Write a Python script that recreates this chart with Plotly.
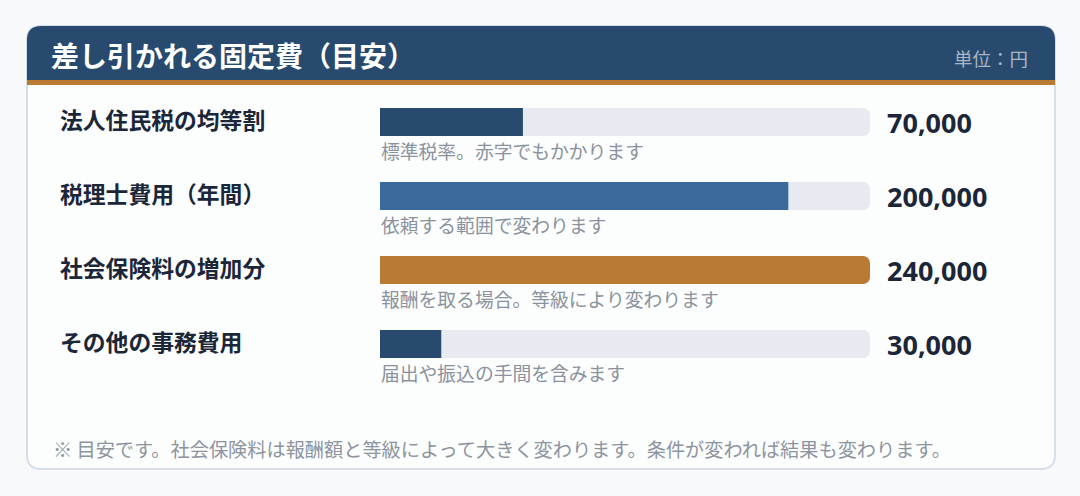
import plotly.graph_objects as go

# データ
title_text = "差し引かれる固定費（目安）"
unit_text = "単位：円"
items = ["法人住民税の均等割", "税理士費用（年間）", "社会保険料の増加分", "その他の事務費用"]
amounts = [70000, 200000, 240000, 30000]
notes = ["標準税率。赤字でもかかります", "依頼する範囲で変わります",
         "報酬を取る場合。等級により変わります", "届出や振込の手間を含みます"]
bar_colors = ["#284a6e", "#3b6a9c", "#b97b34", "#284a6e"]
footnote = "※ 目安です。社会保険料は報酬額と等級によって大きく変わります。条件が変われば結果も変わります。"

W, H = 1080, 496
JP = "Noto Sans CJK JP"


def px(x):
    return x / W


def py(y):
    return 1 - y / H


def rounded_path(x0, y0, x1, y1, r, top_only=False):
    """SVG path (paper coords) for a rounded rectangle given in pixels."""
    rb = 0 if top_only else r
    pts = [
        f"M {px(x0 + r)},{py(y0)}",
        f"L {px(x1 - r)},{py(y0)}",
        f"Q {px(x1)},{py(y0)} {px(x1)},{py(y0 + r)}",
        f"L {px(x1)},{py(y1 - rb)}",
        f"Q {px(x1)},{py(y1)} {px(x1 - rb)},{py(y1)}",
        f"L {px(x0 + rb)},{py(y1)}",
        f"Q {px(x0)},{py(y1)} {px(x0)},{py(y1 - rb)}",
        f"L {px(x0)},{py(y0 + r)}",
        f"Q {px(x0)},{py(y0)} {px(x0 + r)},{py(y0)}",
        "Z",
    ]
    return " ".join(pts)


idx = list(range(len(items)))
track_max = max(amounts)

fig = go.Figure()
fig.add_trace(go.Bar(
    y=idx, x=[track_max] * len(items), orientation="h", width=0.38,
    marker=dict(color="#e7eaf0", cornerradius=7, line=dict(width=0)),
    hoverinfo="skip", showlegend=False,
))
fig.add_trace(go.Bar(
    y=idx, x=amounts, orientation="h", width=0.38,
    marker=dict(color=bar_colors, cornerradius=7, line=dict(width=0)),
    showlegend=False,
))

shapes = [
    # card
    dict(type="path", xref="paper", yref="paper",
         path=rounded_path(27, 26, 1055, 469, 14),
         fillcolor="#fcfdfd", line=dict(color="#d6deea", width=2), layer="below"),
    # header band
    dict(type="path", xref="paper", yref="paper",
         path=rounded_path(27, 26, 1055, 80, 14, top_only=True),
         fillcolor="#284a6e", line=dict(width=0), layer="below"),
    # orange rule
    dict(type="rect", xref="paper", yref="paper",
         x0=px(27), x1=px(1055), y0=py(85), y1=py(80),
         fillcolor="#b97b34", line=dict(width=0), layer="below"),
]

annotations = [
    dict(text=f"<b>{title_text}</b>", x=px(49), y=py(55), xref="paper", yref="paper",
         xanchor="left", yanchor="middle", showarrow=False,
         font=dict(family=JP, size=28, color="#ffffff")),
    dict(text=unit_text, x=px(1030), y=py(58), xref="paper", yref="paper",
         xanchor="right", yanchor="middle", showarrow=False,
         font=dict(family=JP, size=18.5, color="#aab6c6")),
    dict(text=footnote, x=px(51), y=py(449), xref="paper", yref="paper",
         xanchor="left", yanchor="middle", showarrow=False,
         font=dict(family=JP, size=19.2, color="#8c94a0")),
]
for i, (name, val, note) in enumerate(zip(items, amounts, notes)):
    annotations += [
        dict(text=f"<b>{name}</b>", x=px(58), y=i - 0.03, xref="paper", yref="y",
             xanchor="left", yanchor="middle", showarrow=False,
             font=dict(family=JP, size=22.8, color="#1b2639")),
        dict(text=note, x=px(379), y=i + 0.39, xref="paper", yref="y",
             xanchor="left", yanchor="middle", showarrow=False,
             font=dict(family=JP, size=18.8, color="#8a929d")),
        dict(text=f"<b>{val:,}</b>", x=px(885), y=i + 0.01, xref="paper", yref="y",
             xanchor="left", yanchor="middle", showarrow=False,
             font=dict(family="Noto Sans", size=27, color="#1b2639")),
    ]

unit = 74.0
lo = -122 / unit
hi = lo + H / unit

fig.update_layout(
    width=W, height=H,
    margin=dict(l=0, r=0, t=0, b=0),
    paper_bgcolor="#f8f9fb", plot_bgcolor="rgba(0,0,0,0)",
    barmode="overlay",
    xaxis=dict(domain=[px(380), px(870)], range=[0, track_max], visible=False, fixedrange=True),
    yaxis=dict(domain=[0, 1], range=[hi, lo], visible=False, fixedrange=True),
    shapes=shapes, annotations=annotations,
)

fig.write_html("out.html", config={"displayModeBar": False},
               post_script="document.body.style.margin='0';")
